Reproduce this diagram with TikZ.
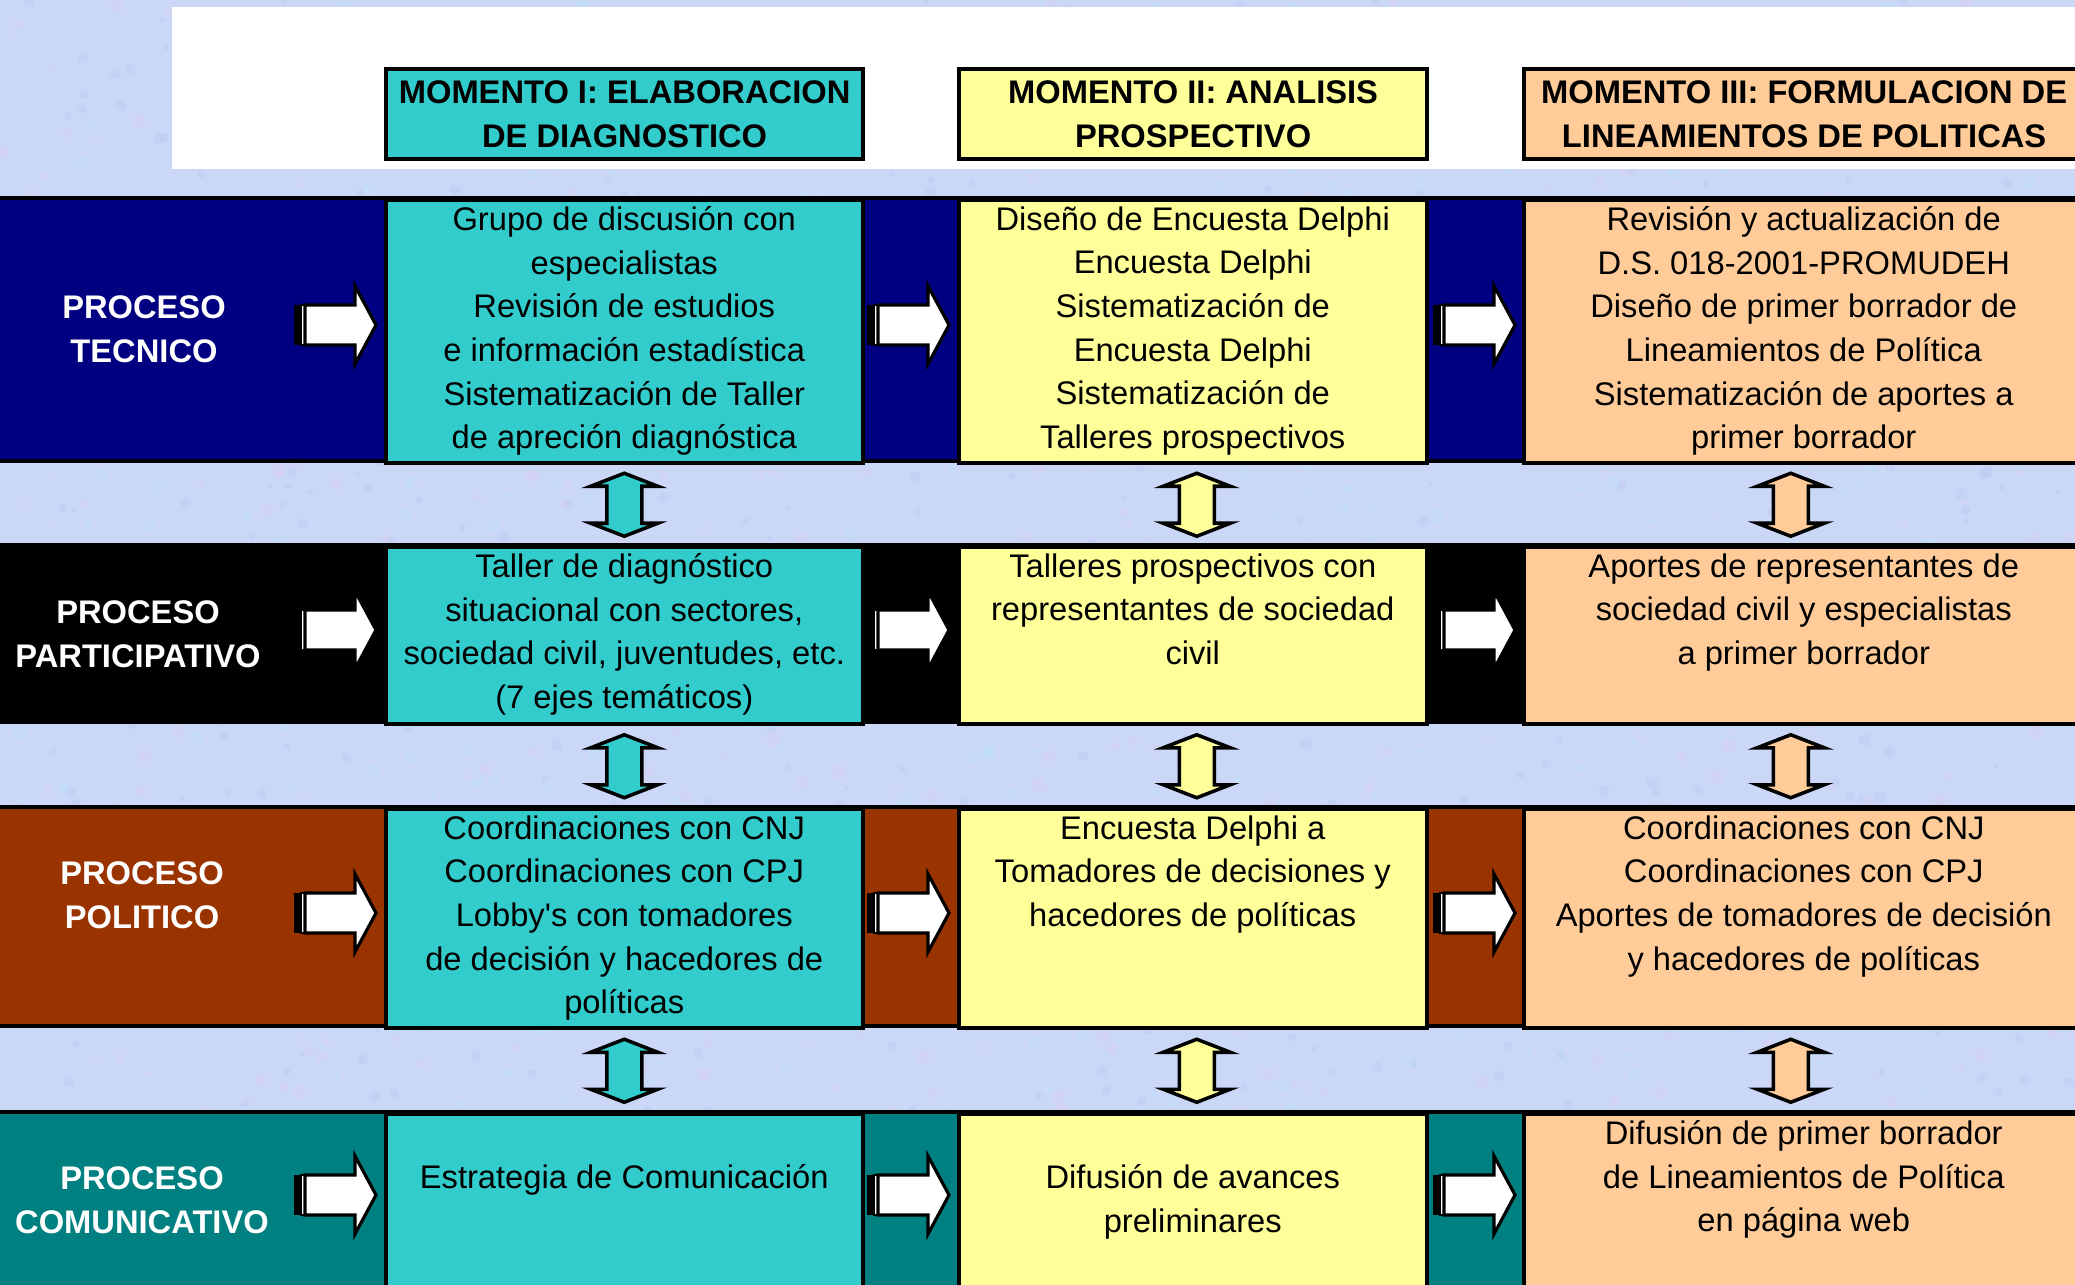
\documentclass[tikz,border=0pt]{standalone}
\usepackage{fontspec}
\setmainfont{Liberation Sans}
\usepackage{tikz}
\usetikzlibrary{positioning,calc}

\definecolor{fondo}{RGB}{202,215,246}
\definecolor{rosa}{RGB}{226,204,240}
\definecolor{celeste}{RGB}{192,228,250}
\definecolor{azulclaro}{RGB}{178,196,240}
\definecolor{cian}{RGB}{51,204,204}
\definecolor{amarillo}{RGB}{255,255,153}
\definecolor{durazno}{RGB}{255,204,153}
\definecolor{azul}{RGB}{0,0,128}
\definecolor{cafe}{RGB}{153,51,0}
\definecolor{verdeazul}{RGB}{0,128,128}

\tikzset{
  texto/.style={font=\fontsize{9.3}{12.4}\selectfont, align=center, inner sep=0pt},
  etiqueta/.style={texto, text=white, font=\fontsize{9.3}{12.4}\selectfont\bfseries},
  celda/.style={draw=black, line width=1pt, anchor=north west, inner sep=0pt},
  momento/.style={draw=black, line width=1.2pt, anchor=north west, align=center, font=\fontsize{9.3}{12.4}\selectfont\bfseries},
  flecha/.pic={
    \fill[black] (0,-.2) rectangle (.07,.2);
    \draw[fill=white, line width=.5pt] (.07,-.2) rectangle (.11,.2);
    \draw[fill=white, line width=.9pt] (.11,-.2) -- (.61,-.2) -- (.61,-.39) -- (.82,0) -- (.61,.39) -- (.61,.2) -- (.11,.2) -- cycle;
  },
  flechadoble/.pic={
    \draw[pic actions, line width=1pt] (0,.315) -- (.335,.185) -- (.175,.185) -- (.175,-.185) -- (.335,-.185) -- (0,-.315)
      -- (-.335,-.185) -- (-.175,-.185) -- (-.175,.185) -- (-.335,.185) -- cycle;
  }
}

\begin{document}
\begin{tikzpicture}
\useasboundingbox (0,0) rectangle (20.75,-12.85);

% fondo
\fill[fondo] (0,0) rectangle (20.75,-12.85);
\pgfmathsetseed{17}
\foreach \i in {1,...,700} \fill[rosa, opacity=.3] ({20.75*rnd},{-12.85*rnd}) circle ({.02+.05*rnd});
\foreach \i in {1,...,700} \fill[celeste, opacity=.35] ({20.75*rnd},{-12.85*rnd}) circle ({.02+.05*rnd});
\foreach \i in {1,...,700} \fill[azulclaro, opacity=.25] ({20.75*rnd},{-12.85*rnd}) circle ({.02+.04*rnd});

% encabezado
\fill[white] (1.72,-.07) rectangle (20.9,-1.69);
\node[momento, fill=cian, minimum width=4.77cm, minimum height=.89cm] (m1) at (3.84,-.67) {MOMENTO I: ELABORACION\\DE DIAGNOSTICO};
\node[momento, fill=amarillo, minimum width=4.68cm, minimum height=.89cm] (m2) at (9.57,-.67) {MOMENTO II: ANALISIS\\PROSPECTIVO};
\node[momento, fill=durazno, minimum width=5.6cm, minimum height=.89cm] (m3) at (15.22,-.67) {MOMENTO III: FORMULACION DE\\LINEAMIENTOS DE POLITICAS};

% filas
\foreach \f/\arriba/\alto/\col in {1/-1.98/2.63/azul, 2/-5.45/1.77/black, 3/-8.07/2.19/cafe, 4/-11.12/1.9/verdeazul} {
  \draw[fill=\col, line width=1pt] (-.1,\arriba) rectangle (20.9,\arriba-\alto);
  \node[celda, fill=cian, minimum width=4.77cm, minimum height=\alto cm] (c\f1) at (3.84,\arriba) {};
  \node[celda, fill=amarillo, minimum width=4.68cm, minimum height=\alto cm] (c\f2) at (9.57,\arriba) {};
  \node[celda, fill=durazno, minimum width=5.6cm, minimum height=\alto cm] (c\f3) at (15.22,\arriba) {};
}

\node[etiqueta] (p1) at (1.44,-3.29) {PROCESO\\TECNICO};
\node[etiqueta] (p2) at (1.38,-6.34) {PROCESO\\PARTICIPATIVO};
\node[etiqueta] (p3) at (1.42,-8.95) {PROCESO\\POLITICO};
\node[etiqueta] (p4) at (1.42,-12.0) {PROCESO\\COMUNICATIVO};

\node[texto, below=.08cm of c11.north] (t11) {Grupo de discusión con\\especialistas\\Revisión de estudios\\e información estadística\\Sistematización de Taller\\de apreción diagnóstica};
\node[texto, below=.08cm of c12.north] (t12) {Diseño de Encuesta Delphi\\Encuesta Delphi\\Sistematización de\\Encuesta Delphi\\Sistematización de\\Talleres prospectivos};
\node[texto, below=.08cm of c13.north] (t13) {Revisión y actualización de\\D.S. 018-2001-PROMUDEH\\Diseño de primer borrador de\\Lineamientos de Política\\Sistematización de aportes a\\primer borrador};

\node[texto, below=.08cm of c21.north] (t21) {Taller de diagnóstico\\situacional con sectores,\\sociedad civil, juventudes, etc.\\(7 ejes temáticos)};
\node[texto, below=.08cm of c22.north] (t22) {Talleres prospectivos con\\representantes de sociedad\\civil};
\node[texto, below=.08cm of c23.north] (t23) {Aportes de representantes de\\sociedad civil y especialistas\\a primer borrador};

\node[texto, below=.08cm of c31.north] (t31) {Coordinaciones con CNJ\\Coordinaciones con CPJ\\Lobby\textquotesingle s con tomadores\\de decisión y hacedores de\\políticas};
\node[texto, below=.08cm of c32.north] (t32) {Encuesta Delphi a\\Tomadores de decisiones y\\hacedores de políticas};
\node[texto, below=.08cm of c33.north] (t33) {Coordinaciones con CNJ\\Coordinaciones con CPJ\\Aportes de tomadores de decisión\\y hacedores de políticas};

\node[texto, below=.52cm of c41.north] (t41) {Estrategia de Comunicación};
\node[texto, below=.52cm of c42.north] (t42) {Difusión de avances\\preliminares};
\node[texto, below=.08cm of c43.north] (t43) {Difusión de primer borrador\\de Lineamientos de Política\\en página web};

% flechas
\foreach \y in {-3.25,-6.30,-9.13,-11.95}
  \foreach \x in {2.94,8.67,14.33}
    \pic at (\x,\y) {flecha};

\foreach \a/\b in {1/2,2/3,3/4} {
  \pic[fill=cian] at ($(c\a1.south)!.5!(c\b1.north)$) {flechadoble};
  \pic[fill=amarillo] at ($(c\a2.south)!.5!(c\b2.north)+(.04,0)$) {flechadoble};
  \pic[fill=durazno] at ($(c\a3.south)!.5!(c\b3.north)+(-.13,0)$) {flechadoble};
}
\end{tikzpicture}
\end{document}
